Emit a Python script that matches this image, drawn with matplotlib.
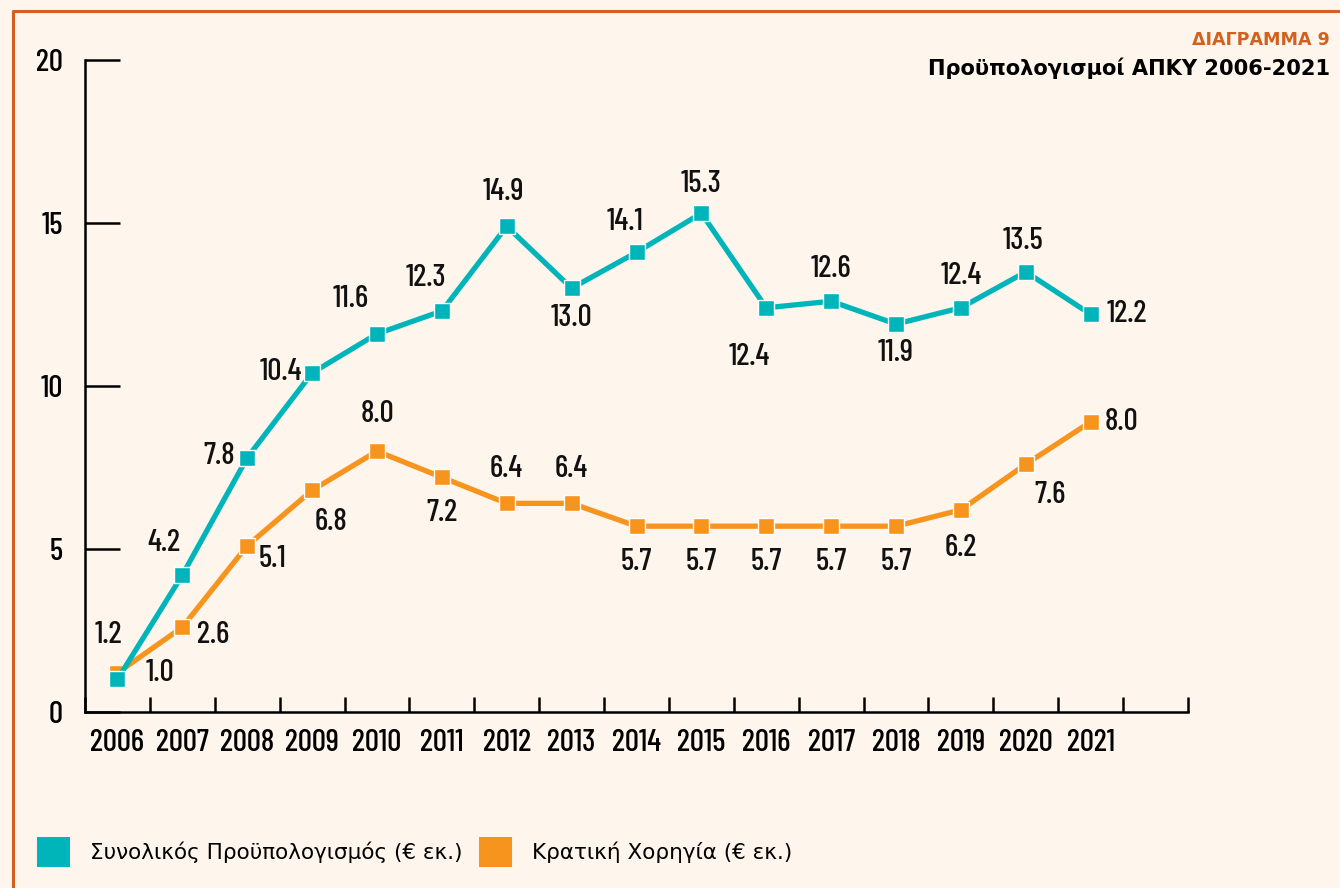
import numpy as np
import matplotlib.pyplot as plt
from matplotlib.patches import Patch
from matplotlib.lines import Line2D

# dados
anos = ['2006', '2007', '2008', '2009', '2010', '2011', '2012', '2013',
        '2014', '2015', '2016', '2017', '2018', '2019', '2020', '2021']
synoliko = [1.0, 4.2, 7.8, 10.4, 11.6, 12.3, 14.9, 13.0,
            14.1, 15.3, 12.4, 12.6, 11.9, 12.4, 13.5, 12.2]
kratiki = [1.2, 2.6, 5.1, 6.8, 8.0, 7.2, 6.4, 6.4,
           5.7, 5.7, 5.7, 5.7, 5.7, 6.2, 7.6, 8.9]
# rótulos como aparecem no gráfico original (2021 marcado como 8.0)
kratiki_rot = ['1.2', '2.6', '5.1', '6.8', '8.0', '7.2', '6.4', '6.4',
               '5.7', '5.7', '5.7', '5.7', '5.7', '6.2', '7.6', '8.0']

# deslocamento dos rótulos (pixels)
off_syn = [(43, 6), (-18, 32), (-28, 2), (-31, 1), (-26, 35), (-16, 33), (-3, 34), (0, -30),
           (-11, 30), (0, 29), (-17, -49), (0, 32), (0, -29), (0, 32), (-3, 31), (36, 0)]
off_kra = [(-9, 38), (31, -8), (25, -13), (19, -32), (0, 37), (0, -36), (0, 34), (0, 34),
           (0, -36), (0, -36), (0, -36), (0, -36), (0, -36), (0, -38), (24, -31), (31, 0)]

teal = '#00B5BA'
laranja = '#F7941D'
fundo = '#FEF5EC'
borda = '#D2601E'
num_font = ['Barlow Condensed', 'DejaVu Sans']
num_size = 22.5

fig = plt.figure(figsize=(13.4, 8.88), dpi=100, facecolor=fundo)
ax = fig.add_axes([85/1340, 1-712/888, (1188-85)/1340, (712-60)/888])
ax.set_facecolor(fundo)

x = np.arange(len(anos))
ax.plot(x, kratiki, color=laranja, lw=3.8, marker='s', ms=11.5,
        mec='white', mew=1.0, zorder=3, clip_on=False)
ax.plot(x, synoliko, color=teal, lw=3.8, marker='s', ms=11.5,
        mec='white', mew=1.0, zorder=4, clip_on=False)

for i in range(len(anos)):
    ax.annotate(f'{synoliko[i]:.1f}', (x[i], synoliko[i]), xytext=off_syn[i],
                textcoords='offset pixels', ha='center', va='center',
                fontsize=num_size, family=num_font, fontweight=500,
                color='#111111', zorder=5)
    ax.annotate(kratiki_rot[i], (x[i], kratiki[i]), xytext=off_kra[i],
                textcoords='offset pixels', ha='center', va='center',
                fontsize=num_size, family=num_font, fontweight=500,
                color='#111111', zorder=5)

ax.set_xlim(-0.5, 16.5)
ax.set_ylim(0, 20)
ax.set_xticks(x)
ax.set_xticklabels(anos)
ax.set_xticks(np.arange(-0.5, 17, 1), minor=True)
ax.set_yticks([0, 5, 10, 15, 20])
ax.tick_params(axis='x', which='major', length=0, pad=12, labelsize=num_size)
ax.tick_params(axis='x', which='minor', direction='in', length=11, width=1.8)
ax.tick_params(axis='y', direction='in', length=25, width=1.8, pad=16, labelsize=num_size)
for lab in ax.get_xticklabels() + ax.get_yticklabels():
    lab.set_family(num_font)
    lab.set_fontweight(500)
for s in ['top', 'right']:
    ax.spines[s].set_visible(False)
for s in ['left', 'bottom']:
    ax.spines[s].set_linewidth(1.8)

# títulos
fig.text(1330/1340, 1-40/888, 'ΔΙΑΓΡΑΜΜΑ 9', ha='right', va='center',
         fontsize=12.6, fontweight='bold', color=borda, family='DejaVu Sans')
fig.text(1330/1340, 1-68/888, 'Προϋπολογισμοί ΑΠΚΥ 2006-2021', ha='right', va='center',
         fontsize=15.1, fontweight='bold', color='black', family='DejaVu Sans')

# moldura laranja (topo e esquerda)
fig.add_artist(Line2D([13/1340, 13/1340, 1], [0, 1-11/888, 1-11/888],
                      transform=fig.transFigure, color=borda, lw=2.2))

# legenda
handles = [Patch(facecolor=teal, edgecolor='none', label='Συνολικός Προϋπολογισμός (€ εκ.)'),
           Patch(facecolor=laranja, edgecolor='none', label='Κρατική Χορηγία (€ εκ.)')]
fig.legend(handles=handles, loc='center left', bbox_to_anchor=(37/1340, 1-852/888),
           ncol=2, frameon=False, handlelength=1.53, handleheight=1.72,
           handletextpad=0.93, columnspacing=0.77, borderpad=0, borderaxespad=0,
           prop={'family': 'DejaVu Sans', 'size': 15.5})

fig.savefig('out.png', dpi=100, facecolor=fundo)
